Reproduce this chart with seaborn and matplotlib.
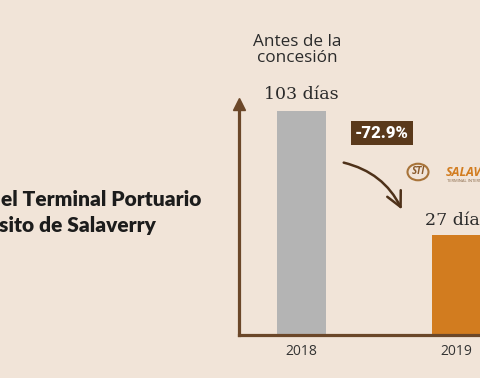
import numpy as np
import pandas as pd
import matplotlib.pyplot as plt
import seaborn as sns
from matplotlib.patches import Circle

# ======================================
# Datos
# ======================================

anios = ["2018", "2019"]
dias = [103, 27]
etiquetas = ["103 días", "27 días"]
colores = ["#B4B4B4", "#D27C1F"]
variacion = "-72.9%"

fondo = "#F1E4D8"
marron = "#6B4729"

df = pd.DataFrame({"anio": anios, "dias": dias})

# ======================================
# Figura
# ======================================

sns.set_style("white")
plt.rcParams["font.family"] = ["Open Sans", "DejaVu Sans"]

fig = plt.figure(figsize=(4.8, 3.78), dpi=100)
fig.patch.set_facecolor(fondo)

W, H = 480, 378
ax = fig.add_axes([239 / W, 43 / H, 241 / W, 231 / H])
ax.set_facecolor(fondo)

sns.barplot(data=df, x="anio", y="dias", hue="anio", palette=colores,
            saturation=1, legend=False, width=0.316, linewidth=0, ax=ax)

# escala no lineal (barras de la infografía no están a escala)
ax.set_yscale("function", functions=(lambda v: np.power(np.clip(v, 0, None), 0.6),
                                     lambda v: np.power(np.clip(v, 0, None), 1 / 0.6)))
ax.set_ylim(0, 108.3)
ax.set_xlim(-0.403, 1.152)

for s in ["top", "right"]:
    ax.spines[s].set_visible(False)
for s in ["left", "bottom"]:
    ax.spines[s].set_color(marron)
    ax.spines[s].set_linewidth(2.3)

ax.set_yticks([])
ax.set_xlabel("")
ax.set_ylabel("")
ax.tick_params(axis="x", length=0, pad=6.5, labelsize=10, labelcolor="#333333")

# flecha del eje y
ax.plot([-0.403], [108.3], marker="^", markersize=9, color=marron,
        clip_on=False, zorder=5)

# ======================================
# Etiquetas de valores
# ======================================

for i, (v, t) in enumerate(zip(dias, etiquetas)):
    ax.annotate(t, (i, v), xytext=(0, 8.5 if i == 0 else 7.2), textcoords="offset points",
                ha="center", va="baseline", fontsize=12.5, family="DejaVu Serif",
                color="#2a2a2a", annotation_clip=False)

ax.annotate("Antes de la\nconcesión", (0, 103), xytext=(-3, 35), textcoords="offset points",
            ha="center", va="baseline", fontsize=12.3, color="#2b2b2b",
            linespacing=1.0, annotation_clip=False)

# caja de variación
fig.text(382 / W, 1 - 133 / H, variacion, ha="center", va="center",
         fontsize=12, fontweight="heavy", family="Roboto", color="white",
         bbox=dict(boxstyle="square,pad=0.25", fc="#5A391B", ec="none"))

# flecha curva
ax.annotate("", xy=(403, H - 212), xycoords="figure pixels",
            xytext=(341, H - 162), textcoords="figure pixels",
            arrowprops=dict(arrowstyle="->,head_length=0.9,head_width=0.45",
                            connectionstyle="arc3,rad=-0.25", color="#4E3119",
                            lw=1.8, mutation_scale=12))

# logo
logo = Circle((418 / W, 1 - 172 / H), 10.5 / W, transform=fig.transFigure,
              fc="none", ec="#A8743A", lw=1.5)
fig.patches.append(logo)
fig.text(418 / W, 1 - 172 / H, "STI", ha="center", va="center", fontsize=7,
         fontweight="bold", style="italic", color="#8A5A2B")
fig.text(446 / W, 1 - 173 / H, "SALAVERRY", ha="left", va="center", fontsize=9,
         fontweight="bold", style="italic", color="#D27C1F")
fig.text(447 / W, 1 - 181 / H, "TERMINAL INTERNACIONAL", ha="left", va="center",
         fontsize=3, color="#8A6A4A")

# ======================================
# Título (recortado)
# ======================================

fig.text(1 / W, 1 - 206 / H, "el Terminal Portuario", ha="left", va="baseline",
         fontsize=15, fontweight="heavy", family="Lato", color="#1C1C1C")
fig.text(-1 / W, 1 - 232 / H, "sito de Salaverry", ha="left", va="baseline",
         fontsize=15, fontweight="heavy", family="Lato", color="#1C1C1C")

plt.savefig("out.png", dpi=100, facecolor=fondo)
plt.close()
